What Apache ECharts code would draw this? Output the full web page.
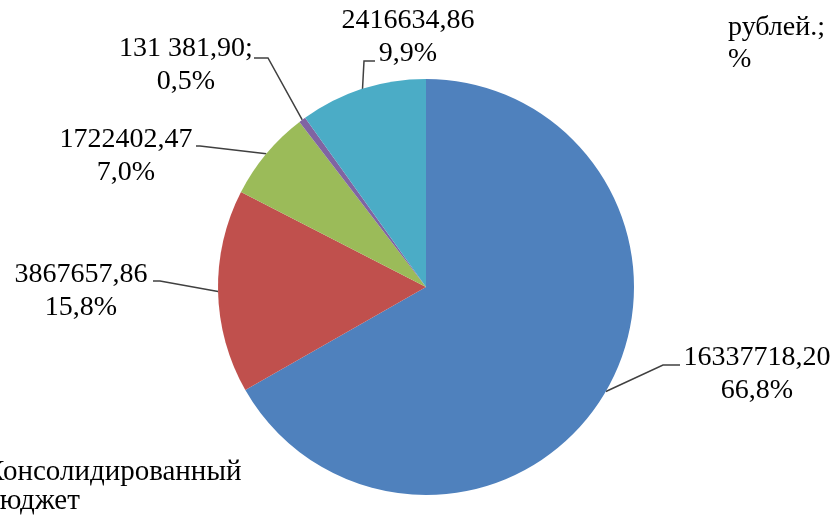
<!DOCTYPE html>
<html>
<head>
<meta charset="utf-8">
<script src="https://cdn.jsdelivr.net/npm/echarts@6/dist/echarts.min.js"></script>
<style>
html,body{margin:0;padding:0;background:#fff;}
#chart{width:836px;height:524px;}
</style>
</head>
<body>
<div id="chart"></div>
<script>
// Data
var categories = ['Федеральный бюджет', 'Консолидированный бюджет', 'Бюджеты фондов', 'Прочие', 'Внебюджетные'];
var values = [16337718.20, 3867657.86, 1722402.47, 131381.90, 2416634.86];
var valueTexts = ['16337718,20', '3867657,86', '1722402,47', '131 381,90;', '2416634,86'];
var colors = ['#4F81BD', '#C0504D', '#9BBB59', '#8064A2', '#4BACC6'];

// Label placement (layout only)
var labelCenters = [[757, 374], [81, 291], [126, 156], [186, 65], [408, 37]];
var leaderBends = [
  [[663, 365], [680, 365]],
  [[160, 281], [153, 281]],
  [[200, 146], [196, 146]],
  [[268, 58], [254, 58]],
  [[364, 61], [375, 61]]
];

var CX = 426, CY = 287, R = 208;
var total = values.reduce(function (a, b) { return a + b; }, 0);

function edgePoint(idx) {
  var cum = 0;
  for (var i = 0; i < idx; i++) cum += values[i];
  var mid = (cum + values[idx] / 2) / total * Math.PI * 2;
  return [CX + R * Math.sin(mid), CY - R * Math.cos(mid)];
}

var chart = echarts.init(document.getElementById('chart'), null, {renderer: 'canvas'});
var FAMILY = 'Liberation Serif';

chart.setOption({
  animation: false,
  backgroundColor: '#ffffff',
  graphic: [
    {
      type: 'text', left: 728, top: 12,
      style: {text: 'рублей.;\n%', fontFamily: FAMILY, fontSize: 28, fill: '#000', lineHeight: 32}
    },
    {
      type: 'text', left: -15, top: 458,
      style: {text: 'Консолидированный\nбюджет', fontFamily: FAMILY, fontSize: 29, fill: '#000', lineHeight: 29}
    }
  ],
  series: [{
    type: 'pie',
    center: [CX, CY],
    radius: [0, R],
    startAngle: 90,
    clockwise: true,
    avoidLabelOverlap: false,
    data: values.map(function (v, i) {
      return {name: categories[i], value: v, itemStyle: {color: colors[i]}};
    }),
    label: {
      show: true,
      position: 'outside',
      fontFamily: FAMILY,
      fontSize: 28,
      lineHeight: 33,
      color: '#000',
      align: 'center',
      formatter: function (p) {
        var pct = (values[p.dataIndex] / total * 100).toFixed(1).replace('.', ',');
        return valueTexts[p.dataIndex] + '\n' + pct + '%';
      }
    },
    labelLine: {
      show: true,
      lineStyle: {color: '#404040', width: 1.5}
    },
    labelLayout: function (params) {
      var i = params.dataIndex;
      var start = (params.labelLinePoints && params.labelLinePoints[0]) ? params.labelLinePoints[0] : edgePoint(i);
      return {
        x: labelCenters[i][0],
        y: labelCenters[i][1],
        align: 'center',
        verticalAlign: 'middle',
        hideOverlap: false,
        labelLinePoints: [start, leaderBends[i][0], leaderBends[i][1]]
      };
    },
    emphasis: {disabled: true}
  }]
});
</script>
</body>
</html>
